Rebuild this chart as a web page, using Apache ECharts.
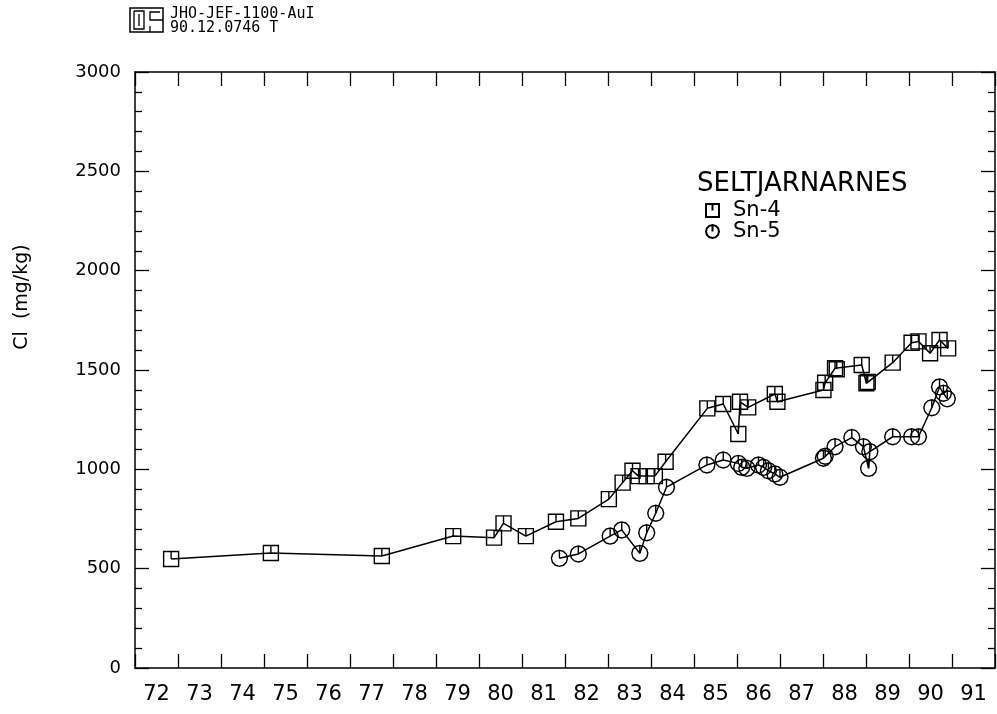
<!DOCTYPE html>
<html>
<head>
<meta charset="utf-8">
<script src="https://cdn.jsdelivr.net/npm/echarts@6/dist/echarts.min.js"></script>
<style>
html,body{margin:0;padding:0;background:#fff;}
#chart{width:997px;height:714px;}
</style>
</head>
<body>
<div id="chart"></div>
<script>
// ---- data (decimal year, Cl mg/kg) ----
var yearLabels = ['72','73','74','75','76','77','78','79','80','81','82','83','84','85','86','87','88','89','90','91'];
var yTicks = [0, 500, 1000, 1500, 2000, 2500, 3000];

var sn4Years = [72.84,75.16,77.74,79.40,80.35,80.57,81.09,81.79,82.31,83.02,83.34,83.57,83.71,83.90,84.09,84.34,85.31,85.68,86.03,86.07,86.26,86.88,86.94,88.01,88.05,88.28,88.32,88.90,89.01,89.04,89.62,90.06,90.22,90.49,90.71,90.91];
var sn4Values = [549,579,564,664,656,728,664,736,753,850,933,993,966,966,966,1038,1307,1329,1178,1340,1312,1379,1340,1399,1436,1509,1504,1525,1433,1440,1537,1637,1644,1584,1651,1609];

var sn5Years = [81.87,82.31,83.05,83.32,83.74,83.90,84.11,84.36,85.30,85.68,86.03,86.11,86.23,86.50,86.62,86.73,86.88,87.00,88.01,88.05,88.28,88.67,88.94,89.06,89.09,89.62,90.06,90.22,90.53,90.71,90.80,90.89];
var sn5Values = [552,574,664,695,577,681,779,910,1022,1047,1030,1010,1005,1022,1010,993,977,960,1056,1066,1114,1160,1114,1005,1089,1164,1164,1164,1310,1415,1383,1355];

function zip(a, b){ return a.map(function(v,i){ return [v, b[i]]; }); }

var squarePath = 'path://M0,0L10,0L10,10L0,10Z M5,0L5,5';
var circlePath = 'path://M10,5L9.33,7.5L7.5,9.33L5,10L2.5,9.33L0.67,7.5L0,5L0.67,2.5L2.5,0.67L5,0L7.5,0.67L9.33,2.5Z M5,0L5,5';

var FONT = 'DejaVu Sans';
var chart = echarts.init(document.getElementById('chart'));
var axisLineStyle = {color:'#000', width:1.5};

var option = {
  backgroundColor:'#fff',
  animation:false,
  grid:{left:135, right:2, top:72, bottom:46, containLabel:false},
  xAxis:[
    {type:'value', min:72, max:92, interval:1, position:'bottom',
     axisLine:{show:true, lineStyle:axisLineStyle},
     axisTick:{show:true, inside:true, length:14, lineStyle:{color:'#000', width:1.3}},
     axisLabel:{show:false}, splitLine:{show:false}},
    {type:'category', data:yearLabels, position:'bottom', boundaryGap:true,
     axisLine:{show:false}, axisTick:{show:false},
     axisLabel:{show:true, interval:0, margin:16, fontSize:21, fontFamily:FONT, color:'#000'},
     splitLine:{show:false}},
    {type:'value', min:72, max:92, interval:1, position:'top',
     axisLine:{show:true, lineStyle:axisLineStyle},
     axisTick:{show:true, inside:true, length:14, lineStyle:{color:'#000', width:1.3}},
     axisLabel:{show:false}, splitLine:{show:false}}
  ],
  yAxis:[
    {type:'value', min:yTicks[0], max:yTicks[yTicks.length-1], interval:500, position:'left',
     axisLine:{show:true, lineStyle:axisLineStyle},
     axisTick:{show:true, inside:true, length:14, lineStyle:{color:'#000', width:1.3}},
     minorTick:{show:true, splitNumber:5, length:7, lineStyle:{color:'#000', width:1.3}},
     axisLabel:{show:true, margin:14, fontSize:18, fontFamily:FONT, color:'#000',
                formatter:function(v){ return String(v); }},
     splitLine:{show:false}},
    {type:'value', min:yTicks[0], max:yTicks[yTicks.length-1], interval:500, position:'right',
     axisLine:{show:true, lineStyle:axisLineStyle},
     axisTick:{show:true, inside:true, length:14, lineStyle:{color:'#000', width:1.3}},
     minorTick:{show:true, splitNumber:5, length:7, lineStyle:{color:'#000', width:1.3}},
     axisLabel:{show:false}, splitLine:{show:false}}
  ],
  legend:{
    show:true, orient:'vertical', left:700, top:195, itemWidth:13, itemHeight:13, itemGap:0,
    textStyle:{fontSize:21, fontFamily:FONT, color:'#000', padding:[0,0,0,9]},
    data:[{name:'Sn-4', icon:squarePath},{name:'Sn-5', icon:circlePath}]
  },
  series:[
    {name:'Sn-4', type:'line', xAxisIndex:0, yAxisIndex:0, data:zip(sn4Years, sn4Values),
     symbol:squarePath, symbolSize:15, showAllSymbol:true,
     lineStyle:{color:'#000', width:1.5},
     itemStyle:{color:'rgba(0,0,0,0)', borderColor:'#000', borderWidth:1.4}},
    {name:'Sn-5', type:'line', xAxisIndex:0, yAxisIndex:0, data:zip(sn5Years, sn5Values),
     symbol:circlePath, symbolSize:16, showAllSymbol:true,
     lineStyle:{color:'#000', width:1.5},
     itemStyle:{color:'rgba(0,0,0,0)', borderColor:'#000', borderWidth:1.4}}
  ],
  graphic:[
    {type:'text', left:697, top:171, style:{text:'SELTJARNARNES', font:'26px "DejaVu Sans"', fill:'#000'}},
    {type:'text', x:22, y:297, rotation:Math.PI/2, style:{text:'Cl  (mg/kg)', font:'19px "DejaVu Sans"', fill:'#000', align:'center', verticalAlign:'middle'}},
    {type:'rect', shape:{x:130, y:8, width:33, height:24}, style:{fill:'none', stroke:'#000', lineWidth:1.5}},
    {type:'polyline', shape:{points:[[134,11],[144,11],[144,29],[134,29],[134,11]]}, style:{fill:'none', stroke:'#000', lineWidth:1.3}},
    {type:'line', shape:{x1:139, y1:14, x2:139, y2:26}, style:{stroke:'#000', lineWidth:1.3}},
    {type:'polyline', shape:{points:[[160,12],[150,12],[150,20],[163,20]]}, style:{fill:'none', stroke:'#000', lineWidth:1.3}},
    {type:'line', shape:{x1:150, y1:26, x2:150, y2:32}, style:{stroke:'#000', lineWidth:1.3}},
    {type:'text', left:170, top:7, style:{text:'JHO-JEF-1100-AuI', font:'15px "DejaVu Sans Mono"', fill:'#000'}},
    {type:'text', left:170, top:21, style:{text:'90.12.0746 T', font:'15px "DejaVu Sans Mono"', fill:'#000'}}
  ]
};
chart.setOption(option);
</script>
</body>
</html>
